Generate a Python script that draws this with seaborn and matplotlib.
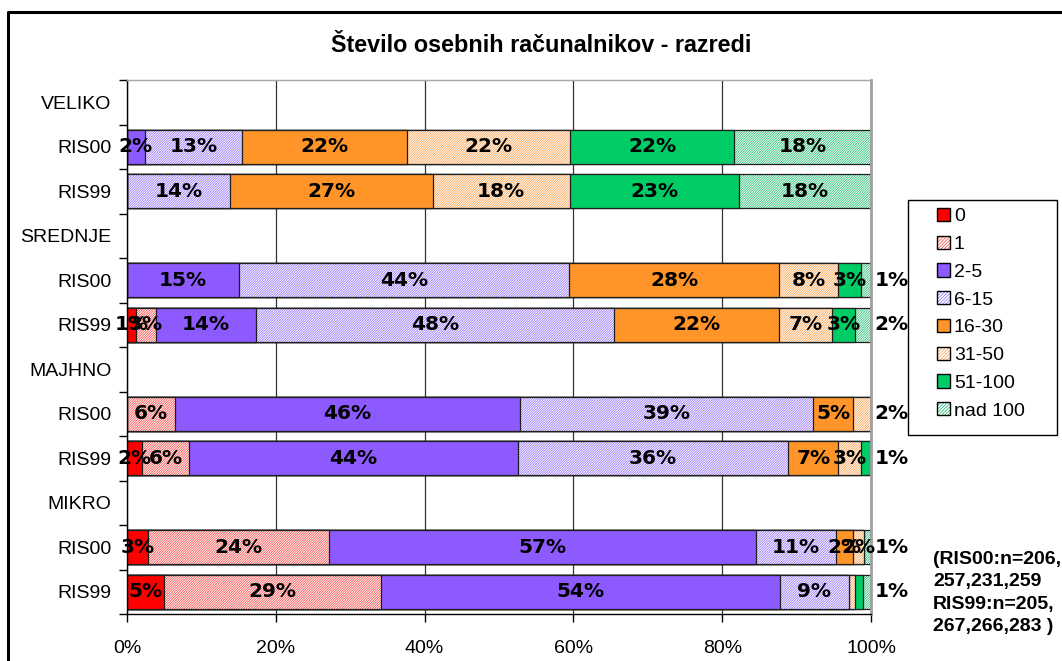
import numpy as np
import pandas as pd
import matplotlib
matplotlib.use("Agg")
import matplotlib.pyplot as plt
import seaborn as sns
from matplotlib.patches import Patch, Rectangle
from matplotlib.lines import Line2D

# ---------------- data ----------------
title = "Število osebnih računalnikov - razredi"
classes = ["0", "1", "2-5", "6-15", "16-30", "31-50", "51-100", "nad 100"]
groups = ["VELIKO", "SREDNJE", "MAJHNO", "MIKRO"]
surveys = ["RIS00", "RIS99"]

veliko_ris00 = [0, 0, 2.4, 13.1, 22.1, 22.0, 22.0, 18.4]
veliko_ris99 = [0, 0, 0, 13.8, 27.3, 18.4, 22.7, 17.8]
srednje_ris00 = [0, 0, 15.0, 44.4, 28.3, 7.9, 3.0, 1.4]
srednje_ris99 = [1.2, 2.7, 13.5, 48.1, 22.1, 7.2, 3.0, 2.2]
majhno_ris00 = [0, 6.4, 46.4, 39.4, 5.4, 2.4, 0, 0]
majhno_ris99 = [2.0, 6.3, 44.2, 36.4, 6.7, 3.0, 1.4, 0]
mikro_ris00 = [2.8, 24.4, 57.3, 10.8, 2.3, 1.5, 0, 0.9]
mikro_ris99 = [5.0, 29.2, 53.6, 9.2, 0, 0.9, 1.0, 1.1]

x_ticks = [0, 20, 40, 60, 80, 100]
note = "(RIS00:n=206,\n257,231,259\nRIS99:n=205,\n267,266,283 )"

series = {
    ("VELIKO", "RIS00"): veliko_ris00, ("VELIKO", "RIS99"): veliko_ris99,
    ("SREDNJE", "RIS00"): srednje_ris00, ("SREDNJE", "RIS99"): srednje_ris99,
    ("MAJHNO", "RIS00"): majhno_ris00, ("MAJHNO", "RIS99"): majhno_ris99,
    ("MIKRO", "RIS00"): mikro_ris00, ("MIKRO", "RIS99"): mikro_ris99,
}

# ---------------- styles ----------------
base_colors = ["#FF0000", "#FF3A3A", "#8C5AFF", "#8C64FF", "#FF9428", "#FF9A40", "#00CC66", "#10BB66"]
hatched = [False, True, False, True, False, True, False, True]
HATCH = "/" * 14
OUTLINE = "#1e1e1e"

sns.set_theme(style="white")
plt.rcParams["font.family"] = ["Liberation Sans", "DejaVu Sans"]
plt.rcParams["hatch.linewidth"] = 0.5
for k in ["text.color", "axes.labelcolor", "xtick.color", "ytick.color"]:
    plt.rcParams[k] = "black"

W, H = 1062, 661
fig = plt.figure(figsize=(W / 100, H / 100), dpi=100)
ax = fig.add_axes([127 / W, 1 - 614 / H, (871 - 127) / W, (614 - 80) / H])

# row order (header row + survey rows)
rows, row_labels = [], []
for g in groups:
    rows.append(g)
    row_labels.append(g)
    for s in surveys:
        rows.append(f"{g}|{s}")
        row_labels.append(s)

records = []
for (g, s), vals in series.items():
    cum = np.cumsum(vals)
    for k, c in enumerate(classes):
        records.append({"row": f"{g}|{s}", "cls": c, "value": vals[k], "cum": cum[k]})
df = pd.DataFrame(records)

BAR_W = 0.764
for k in reversed(range(len(classes))):
    sub = df[df["cls"] == classes[k]]
    n0 = len(ax.patches)
    sns.barplot(data=sub, x="cum", y="row", order=rows, orient="h", color=base_colors[k],
                width=BAR_W, errorbar=None, saturation=1, ax=ax)
    for p in ax.patches[n0:]:
        if hatched[k]:
            p.set_facecolor("white")
            p.set_edgecolor(base_colors[k])
            p.set_hatch(HATCH)
        else:
            p.set_facecolor(base_colors[k])
            p.set_edgecolor(base_colors[k])
        p.set_linewidth(0)
    n1 = len(ax.patches)
    sns.barplot(data=sub, x="cum", y="row", order=rows, orient="h", color=base_colors[k],
                width=BAR_W, errorbar=None, saturation=1, ax=ax)
    for p in ax.patches[n1:]:
        p.set_facecolor("none")
        p.set_edgecolor(OUTLINE)
        p.set_linewidth(0.9)

# data labels
def fmt(v):
    return f"{int(np.floor(v + 0.5))}%"

lab_kw = dict(fontsize=14.5, fontweight="bold", family="DejaVu Sans", va="center", clip_on=False)
for (g, s), vals in series.items():
    yi = rows.index(f"{g}|{s}")
    cum = np.cumsum(vals)
    nz = [i for i, v in enumerate(vals) if v > 0]
    last = nz[-1]
    for k, v in enumerate(vals):
        if v <= 0:
            continue
        if k != last and v < 1.05:
            continue
        if k == last and v < 3:
            ax.text(cum[k] + 0.5, yi, fmt(v), ha="left", **lab_kw)
        else:
            ax.text(cum[k] - v / 2, yi, fmt(v), ha="center", **lab_kw)

# axes styling
ax.set_xlim(0, 100)
ax.set_ylim(len(rows) - 0.5, -0.5)
ax.set_xticks(x_ticks)
ax.set_xticklabels([f"{t}%" for t in x_ticks], fontsize=14)
ax.set_yticks(range(len(rows)))
ax.set_yticklabels(row_labels, fontsize=14)
ax.set_yticks(np.arange(-0.5, len(rows), 1), minor=True)
ax.tick_params(axis="y", which="major", length=0, pad=11)
ax.tick_params(axis="y", which="minor", length=6, width=1, color="black", direction="out", left=True)
ax.tick_params(axis="x", which="major", length=6, width=1, color="black", direction="out", bottom=True, pad=12.5)
ax.set_xlabel("")
ax.set_ylabel("")
ax.set_axisbelow(True)
ax.xaxis.grid(True, color="#333333", lw=0.9)
ax.yaxis.grid(False)
for s in ["left", "bottom"]:
    ax.spines[s].set_color("black")
    ax.spines[s].set_linewidth(1)
ax.spines["top"].set_color("#A8A8A8")
ax.spines["top"].set_linewidth(1)
ax.spines["right"].set_color("#A0A0A0")
ax.spines["right"].set_linewidth(2)

# title
fig.text(541 / W, 1 - 45 / H, title, ha="center", va="center", fontsize=16.8, fontweight="bold")

# legend
handles = []
for k, c in enumerate(classes):
    if hatched[k]:
        fill = Patch(facecolor="white", edgecolor=base_colors[k], hatch="/" * 10, linewidth=0)
    else:
        fill = Patch(facecolor=base_colors[k], edgecolor=base_colors[k], linewidth=0)
    outline = Patch(facecolor="none", edgecolor="black", linewidth=1)
    handles.append((fill, outline))
fig.legend(handles, classes, loc="upper left", bbox_to_anchor=(937 / W, 1 - 208 / H),
           frameon=False, borderpad=0, borderaxespad=0, handlelength=0.67, handleheight=0.67,
           handletextpad=0.2, labelspacing=0.53, fontsize=14)
fig.add_artist(Rectangle((908 / W, 1 - 435 / H), (1057 - 908) / W, (435 - 200) / H,
                         transform=fig.transFigure, fill=False, edgecolor="black", lw=1))

# note
fig.text(933 / W, 1 - 593 / H, note, ha="left", va="center", fontsize=14, fontweight="bold",
         linespacing=1.42)

# chart border
fig.add_artist(Line2D([8 / W, 8 / W, 1.02], [-0.02, 1 - 12 / H, 1 - 12 / H],
                      transform=fig.transFigure, color="black", lw=2.2))

fig.savefig("out.png", dpi=100)
